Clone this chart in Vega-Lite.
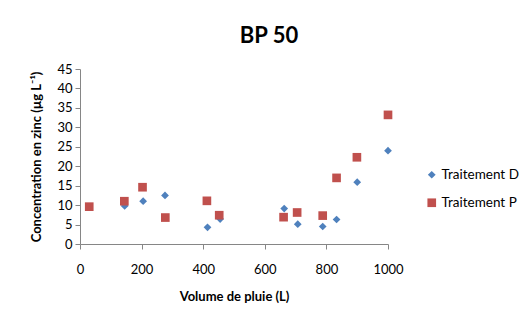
{
  "$schema": "https://vega.github.io/schema/vega-lite/v6.json",
  "width": 308,
  "height": 175,
  "autosize": {"type": "none"},
  "padding": {"left": 80, "top": 69, "right": 138, "bottom": 79},
  "background": "white",
  "config": {
    "font": "Lato",
    "view": {"stroke": null},
    "axis": {"grid": false, "domainColor": "#868686", "tickColor": "#868686", "labelColor": "#000000", "titleColor": "#000000", "labelFont": "Lato", "titleFont": "Lato", "labelFontSize": 13, "titleFontSize": 13, "titleFontWeight": "bold", "tickSize": 5}
  },
  "title": {"text": "BP 50", "fontSize": 22, "font": "Lato", "fontWeight": "bold", "color": "#000000", "anchor": "middle", "dx": 35, "offset": 15},
  "data": {
    "values": [
      {"volume": 145, "concentration": 9.8, "traitement": "Traitement D"},
      {"volume": 205, "concentration": 11.0, "traitement": "Traitement D"},
      {"volume": 276, "concentration": 12.5, "traitement": "Traitement D"},
      {"volume": 414, "concentration": 4.3, "traitement": "Traitement D"},
      {"volume": 455, "concentration": 6.4, "traitement": "Traitement D"},
      {"volume": 663, "concentration": 9.1, "traitement": "Traitement D"},
      {"volume": 707, "concentration": 5.1, "traitement": "Traitement D"},
      {"volume": 788, "concentration": 4.5, "traitement": "Traitement D"},
      {"volume": 833, "concentration": 6.3, "traitement": "Traitement D"},
      {"volume": 900, "concentration": 15.9, "traitement": "Traitement D"},
      {"volume": 1000, "concentration": 24.0, "traitement": "Traitement D"},
      {"volume": 30, "concentration": 9.6, "traitement": "Traitement P"},
      {"volume": 144, "concentration": 11.0, "traitement": "Traitement P"},
      {"volume": 203, "concentration": 14.6, "traitement": "Traitement P"},
      {"volume": 277, "concentration": 6.8, "traitement": "Traitement P"},
      {"volume": 412, "concentration": 11.1, "traitement": "Traitement P"},
      {"volume": 452, "concentration": 7.4, "traitement": "Traitement P"},
      {"volume": 661, "concentration": 6.9, "traitement": "Traitement P"},
      {"volume": 705, "concentration": 8.1, "traitement": "Traitement P"},
      {"volume": 788, "concentration": 7.3, "traitement": "Traitement P"},
      {"volume": 833, "concentration": 17.0, "traitement": "Traitement P"},
      {"volume": 899, "concentration": 22.3, "traitement": "Traitement P"},
      {"volume": 1000, "concentration": 33.2, "traitement": "Traitement P"}
    ]
  },
  "mark": {"type": "point", "filled": true, "opacity": 1},
  "encoding": {
    "x": {
      "field": "volume", "type": "quantitative",
      "scale": {"domain": [0, 1000], "nice": false, "zero": true},
      "axis": {"title": "Volume de pluie (L)", "values": [0, 200, 400, 600, 800, 1000], "format": "d", "labelPadding": 14, "titleY": 56, "titleBaseline": "alphabetic", "labelFlush": false}
    },
    "y": {
      "field": "concentration", "type": "quantitative",
      "scale": {"domain": [0, 45], "nice": false},
      "axis": {"title": "Concentration en zinc (µg L⁻¹)", "values": [0, 5, 10, 15, 20, 25, 30, 35, 40, 45], "labelPadding": 3, "titleX": -40, "titleBaseline": "alphabetic"}
    },
    "color": {
      "field": "traitement", "type": "nominal",
      "scale": {"domain": ["Traitement D", "Traitement P"], "range": ["#4F81BD", "#C0504D"]},
      "legend": {"title": null, "orient": "none", "legendX": 345, "legendY": 99, "padding": 0, "labelFontSize": 13.5, "labelFont": "Lato", "labelColor": "#000000", "labelOffset": 3, "rowPadding": 13, "symbolSize": 70}
    },
    "shape": {
      "field": "traitement", "type": "nominal",
      "scale": {"domain": ["Traitement D", "Traitement P"], "range": ["diamond", "square"]},
      "legend": null
    },
    "size": {
      "field": "traitement", "type": "nominal",
      "scale": {"domain": ["Traitement D", "Traitement P"], "range": [60, 75]},
      "legend": null
    }
  }
}
